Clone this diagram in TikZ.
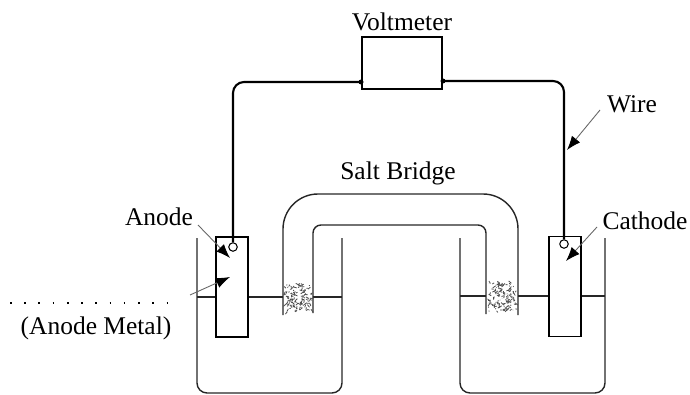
\documentclass[tikz,border=0pt]{standalone}
\usepackage{fontspec}
\setmainfont{Liberation Serif}
\usetikzlibrary{arrows.meta}

\begin{document}
\begin{tikzpicture}[
                    x = 0.2mm, y = -0.2mm,
                    marrow/.style = {arrows = {-Latex[black, width=6pt, length=8pt]}, draw = black!60, line width = 0.5pt},
                    wire/.style = {line width = 1.2pt, rounded corners = 2.2mm},
                    glass/.style = {line width = 0.8pt, black!85},
                    plate/.style = {draw, line width = 0.85pt, minimum width = 6.4mm, minimum height = 20mm, inner sep = 0pt},
                    terminal/.style = {circle, draw, line width = 0.6pt, fill = white, minimum size = 1.7mm, inner sep = 0pt},
                    plug/.style = {black!70, line width = 0.45pt},
                    label/.style = {font = \fontsize{14.5}{16}\selectfont, inner sep = 0pt}
                ]

                \useasboundingbox (0,0) rectangle (690,395);

                % beakers
                \draw[glass, rounded corners = 2mm] (197,238) -- (197,393) -- (342,393) -- (342,238);
                \draw[glass, rounded corners = 2mm] (460,238) -- (460,393) -- (605,393) -- (605,238);

                % electrolyte level
                \draw[glass] (197,297) -- (216,297);
                \draw[glass] (248,297) -- (283,297);
                \draw[glass] (313,297) -- (342,297);
                \draw[glass] (460,296) -- (486,296);
                \draw[glass] (518,296) -- (549,296);
                \draw[glass] (581,296) -- (605,296);

                % salt bridge
                \draw[glass, rounded corners = 7mm] (283,315) -- (283,194) -- (518,194) -- (518,315);
                \draw[glass, rounded corners = 1.6mm] (313,313) -- (313,225) -- (486,225) -- (486,314);

                % cotton plugs
                \pgfmathsetseed{41}
                \foreach \cx/\cy in {298/298, 502/297}{
                    \foreach \i in {1,...,120}{
                        \pgfmathsetmacro{\px}{\cx+13.5*rand}
                        \pgfmathsetmacro{\py}{\cy+14*rand}
                        \pgfmathsetmacro{\qx}{\px+3*rand}
                        \pgfmathsetmacro{\qy}{\py+3*rand}
                        \draw[plug] (\px,\py) -- (\qx,\qy);
                    }
                }

                % electrodes and voltmeter
                \node[plate] (anode) at (232,287) {};
                \node[plate] (cathode) at (565,286.5) {};
                \node[terminal] (anodeterm) at (233,247) {};
                \node[terminal] (cathodeterm) at (564,244) {};
                \node[draw, line width = 0.85pt, minimum width = 16mm, minimum height = 10.4mm, inner sep = 0pt] (voltmeter) at (402,63) {};

                \coordinate (vleft) at (361,82);
                \coordinate (vright) at (443,81);
                \fill (vleft) circle [radius = 0.5mm];
                \fill (vright) circle [radius = 0.5mm];

                % wires
                \draw[wire] (vleft) -| (anodeterm.north);
                \draw[wire] (vright) -| (cathodeterm.north);

                % labels
                \node[label] (voltlabel) at (402,22) {Voltmeter};
                \node[label] (wirelabel) at (632,104) {Wire};
                \node[label] (bridgelabel) at (398,173) {Salt Bridge};
                \node[label] (anodelabel) at (159,217) {Anode};
                \node[label] (cathodelabel) at (645,221) {Cathode};
                \node[label] (metallabel) at (96,328) {(Anode Metal)};

                \draw[black, line width = 0.9pt, dash pattern = on 0.9pt off 7.2pt] (10,303) -- (172,303);

                % leaders
                \coordinate (wiretail) at (600,110);
                \coordinate (wiretip) at (567,150);
                \coordinate (anodetail) at (198,225);
                \coordinate (anodetip) at (230,258);
                \coordinate (metaltail) at (190,295);
                \coordinate (metaltip) at (230,277);
                \coordinate (cathodetail) at (597,227);
                \coordinate (cathodetip) at (566,261);

                \draw[marrow] (wiretail) -- (wiretip);
                \draw[marrow] (anodetail) -- (anodetip);
                \draw[marrow] (metaltail) -- (metaltip);
                \draw[marrow] (cathodetail) -- (cathodetip);

            \end{tikzpicture}
\end{document}
